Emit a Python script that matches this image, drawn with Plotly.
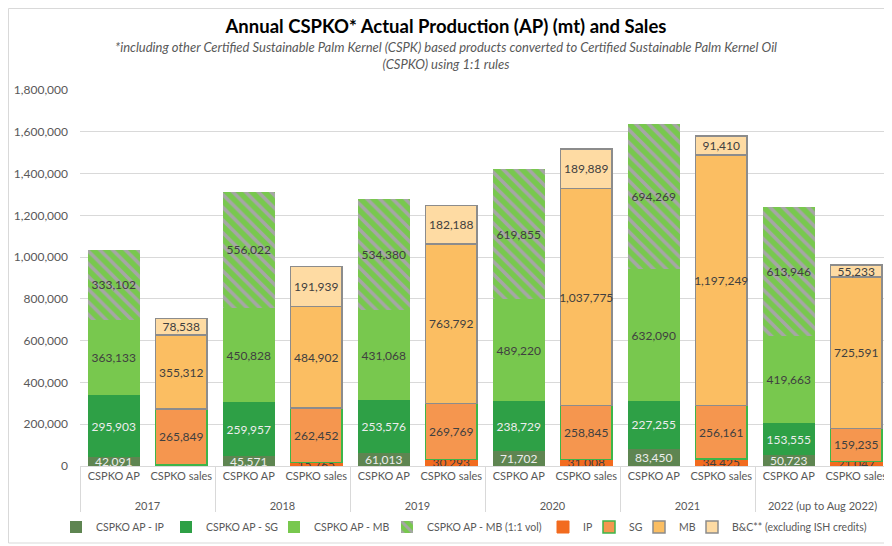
import plotly.graph_objects as go

years = ["2017", "2018", "2019", "2020", "2021", "2022 (up to Aug 2022)"]
kinds = ["CSPKO AP", "CSPKO sales"]

ap_ip = [42091, 45571, 61013, 71702, 83450, 50723]
ap_sg = [295903, 259957, 253576, 238729, 227255, 153555]
ap_mb = [363133, 450828, 431068, 489220, 632090, 419663]
ap_mb11 = [333102, 556022, 534380, 619855, 694269, 613946]
sales_ip = [5959, 15765, 30293, 31008, 34425, 21047]
sales_sg = [265849, 262452, 269769, 258845, 256161, 159235]
sales_mb = [355312, 484902, 763792, 1037775, 1197249, 725591]
sales_bc = [78538, 191939, 182188, 189889, 91410, 55233]

xo = []
xi = []
for y in years:
    for k in kinds:
        xo.append("<br>" + y)  # outer level label pushed one line lower
        xi.append(k)


def ap(vals):
    out = []
    for v in vals:
        out += [v, None]
    return out


def sl(vals):
    out = []
    for v in vals:
        out += [None, v]
    return out


FONT = "Lato"
DARK = "#404040"
LIGHT = "#EDEDED"

# page has an 8px body margin: figure is drawn at (8,8)
W, H = 884, 538
L, R, T, B = 72, 2, 82, 80
PW, PH = W - L - R, H - T - B


def px_x(x):  # figure pixel -> paper x
    return (x - L) / PW


def px_y(y):  # figure pixel -> paper y
    return (H - B - y) / PH


fig = go.Figure()


def add(name, y, color, txtcol, legend, lw, line_color=None, line_w=0, pattern=None):
    marker = dict(color=color, line=dict(color=line_color or color, width=line_w))
    if pattern:
        marker["pattern"] = pattern
    fig.add_trace(go.Bar(
        name=name, x=[xo, xi], y=y, marker=marker,
        texttemplate="%{y:,.0f}", textposition="inside", insidetextanchor="middle",
        textangle=0, constraintext="none",
        textfont=dict(color=txtcol, size=12, family=FONT),
        hoverinfo="skip", legend=legend, legendwidth=lw,
    ))


add("CSPKO AP - IP", ap(ap_ip), "#5E8551", LIGHT, "legend", 65)
add("CSPKO AP - SG", ap(ap_sg), "#2EA046", LIGHT, "legend", 63)
add("CSPKO AP - MB", ap(ap_mb), "#78C84E", DARK, "legend", 68)
add("CSPKO AP - MB (1:1 vol)", ap(ap_mb11), "#78C84E", DARK, "legend", 124,
    pattern=dict(shape="\\", bgcolor="#78C84E", fgcolor="#A6A6A6", size=9, solidity=0.4, fillmode="replace"))
add("IP", sl(sales_ip), "#F26B1F", DARK, "legend2", 1, line_color="#F26B1F", line_w=1)
add("SG", sl(sales_sg), "#F5964F", DARK, "legend2", 5, line_color="#3DB54A", line_w=1.5)
add("MB", sl(sales_mb), "#FBBE62", DARK, "legend2", 8, line_color="#8C8C8C", line_w=1.5)
add("B&C** (excluding ISH credits)", sl(sales_bc), "#FEDBA3", DARK, "legend2", 140,
    line_color="#8C8C8C", line_w=1.5)

leg_common = dict(orientation="h", yanchor="middle", y=px_y(519), xanchor="left",
                  font=dict(size=10.5, color="#595959", family=FONT), traceorder="normal",
                  itemwidth=30, tracegroupgap=0, bgcolor="rgba(0,0,0,0)")

fig.update_layout(
    barmode="stack",
    bargap=0.23,
    width=W, height=H,
    margin=dict(l=L, r=R, t=T, b=B, autoexpand=False),
    paper_bgcolor="white", plot_bgcolor="white",
    font=dict(family=FONT, color="#595959", size=11),
    uniformtext=dict(mode="show", minsize=12),
    title=dict(text="<b>Annual CSPKO* Actual Production (AP) (mt) and Sales</b>",
               x=438 / W, xref="container", y=1 - 19 / H, yref="container", yanchor="middle",
               font=dict(size=18.5, color="black", family=FONT)),
    showlegend=True,
    legend=dict(x=px_x(48), **leg_common),
    legend2=dict(x=px_x(535), **leg_common),
    xaxis=dict(type="multicategory", showgrid=False, showline=True, linecolor="#D9D9D9",
               ticks="outside", ticklen=8, tickcolor="rgba(0,0,0,0)",
               showdividers=True, dividercolor="#D9D9D9",
               dividerwidth=1, tickangle=0, automargin=False,
               tickfont=dict(size=11, color="#595959")),
    yaxis=dict(range=[0, 1800000], dtick=200000, tickformat=",", showgrid=True,
               gridcolor="#D9D9D9", zeroline=False, showline=False, automargin=False,
               tickfont=dict(size=12, color="#595959"), ticklabelstandoff=11),
    annotations=[
        dict(text="<i>*including other Certified Sustainable Palm Kernel (CSPK) based products converted to Certified Sustainable Palm Kernel Oil<br>(CSPKO) using 1:1 rules</i>",
             xref="paper", yref="paper", x=px_x(438), y=px_y(48),
             xanchor="center", yanchor="middle", showarrow=False,
             font=dict(size=13, color="#595959", family=FONT)),
    ],
    shapes=[
        dict(type="rect", xref="paper", yref="paper",
             x0=px_x(0.5), x1=px_x(880), y0=px_y(535), y1=px_y(0.5),
             line=dict(color="#D9D9D9", width=1), fillcolor="rgba(0,0,0,0)", layer="below"),
    ],
)

fig.write_html("out.html")
